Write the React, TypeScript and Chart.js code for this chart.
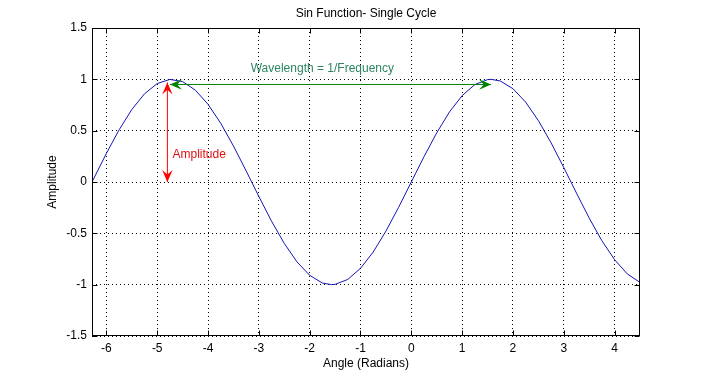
import { useEffect, useRef } from 'react';
import { Chart, registerables } from 'chart.js';

Chart.register(...registerables);

// ---- data ----
const angles = [
  -6.2832, -6.0, -5.75, -5.5, -5.25, -5.0, -4.75, -4.5, -4.25, -4.0, -3.75, -3.5, -3.25,
  -3.0, -2.75, -2.5, -2.25, -2.0, -1.75, -1.57, -1.5, -1.25, -1.0, -0.75, -0.5, -0.25,
  0, 0.25, 0.5, 0.75, 1.0, 1.25, 1.5, 1.57, 1.75, 2.0, 2.25, 2.5, 2.75, 3.0, 3.25,
  3.5, 3.75, 4.0, 4.25, 4.5,
];
const amplitudes = [
  0.0, 0.279, 0.508, 0.706, 0.859, 0.959, 0.999, 0.978, 0.895, 0.757, 0.572, 0.351, 0.108,
  -0.141, -0.382, -0.598, -0.778, -0.909, -0.984, -1.0, -0.997, -0.949, -0.841, -0.682, -0.479, -0.247,
  0.0, 0.247, 0.479, 0.682, 0.841, 0.949, 0.997, 1.0, 0.984, 0.909, 0.778, 0.598, 0.382, 0.141, -0.108,
  -0.351, -0.572, -0.757, -0.895, -0.978,
];
const xTickValues = [-6, -5, -4, -3, -2, -1, 0, 1, 2, 3, 4];
const yTickValues = [-1.5, -1, -0.5, 0, 0.5, 1, 1.5];
const xRange = [-6.2832, 4.5];
const yRange = [-1.5, 1.5];

const titleText = 'Sin Function- Single Cycle';
const xAxisTitle = 'Angle (Radians)';
const yAxisTitle = 'Amplitude';

// annotation anchors (data coordinates)
const amplitudeArrow = [[-4.8, 0], [-4.8, 0.97]];
const wavelengthArrow = [[-4.75, 0.95], [1.57, 0.95]];
const amplitudeLabel = { text: 'Amplitude', x: -4.7, y: 0.27 };
const wavelengthLabel = { text: 'Wavelength = 1/Frequency', x: -3.16, y: 1.107 };

const FONT = 'Liberation Sans, Arial, Helvetica, sans-serif';

function drawHead(ctx: CanvasRenderingContext2D, tx: number, ty: number, dx: number, dy: number) {
  const len = 12;
  const hw = 5.2;
  const px = -dy;
  const py = dx;
  const bx = tx - dx * len;
  const by = ty - dy * len;
  const nx = tx - dx * len * 0.62;
  const ny = ty - dy * len * 0.62;
  ctx.beginPath();
  ctx.moveTo(tx, ty);
  ctx.lineTo(bx + px * hw, by + py * hw);
  ctx.lineTo(nx, ny);
  ctx.lineTo(bx - px * hw, by - py * hw);
  ctx.closePath();
  ctx.fill();
}

function drawDoubleArrow(ctx: CanvasRenderingContext2D, x1: number, y1: number, x2: number, y2: number, color: string) {
  ctx.strokeStyle = color;
  ctx.fillStyle = color;
  ctx.lineWidth = 1;
  ctx.beginPath();
  ctx.moveTo(x1, y1);
  ctx.lineTo(x2, y2);
  ctx.stroke();
  const L = Math.hypot(x2 - x1, y2 - y1) || 1;
  const ux = (x2 - x1) / L;
  const uy = (y2 - y1) / L;
  drawHead(ctx, x2, y2, ux, uy);
  drawHead(ctx, x1, y1, -ux, -uy);
}

const overlayPlugin = {
  id: 'overlay',
  afterDraw(chart: any) {
    const { ctx, chartArea: a } = chart;
    const x = chart.scales.x;
    const y = chart.scales.y;
    ctx.save();
    ctx.setLineDash([]);
    // box
    ctx.strokeStyle = '#000';
    ctx.lineWidth = 1;
    const L = Math.round(a.left) + 0.5;
    const R = Math.round(a.right) - 0.5;
    const T = Math.round(a.top) + 0.5;
    const B = Math.round(a.bottom) - 0.5;
    ctx.strokeRect(L, T, R - L, B - T);
    // inward tick marks
    ctx.beginPath();
    for (const v of xTickValues) {
      const px = Math.round(x.getPixelForValue(v)) + 0.5;
      ctx.moveTo(px, B);
      ctx.lineTo(px, B - 5);
      ctx.moveTo(px, T);
      ctx.lineTo(px, T + 5);
    }
    for (const v of yTickValues) {
      const py = Math.round(y.getPixelForValue(v)) + 0.5;
      ctx.moveTo(L, py);
      ctx.lineTo(L + 5, py);
      ctx.moveTo(R, py);
      ctx.lineTo(R - 5, py);
    }
    ctx.stroke();

    // arrows
    drawDoubleArrow(
      ctx,
      x.getPixelForValue(amplitudeArrow[0][0]), y.getPixelForValue(amplitudeArrow[0][1]),
      x.getPixelForValue(amplitudeArrow[1][0]), y.getPixelForValue(amplitudeArrow[1][1]),
      '#ff0000'
    );
    drawDoubleArrow(
      ctx,
      x.getPixelForValue(wavelengthArrow[0][0]), y.getPixelForValue(wavelengthArrow[0][1]),
      x.getPixelForValue(wavelengthArrow[1][0]), y.getPixelForValue(wavelengthArrow[1][1]),
      '#008000'
    );

    // labels
    ctx.font = `12px ${FONT}`;
    ctx.textBaseline = 'middle';
    ctx.textAlign = 'left';
    ctx.fillStyle = '#e01010';
    ctx.fillText(amplitudeLabel.text, x.getPixelForValue(amplitudeLabel.x), y.getPixelForValue(amplitudeLabel.y));
    ctx.fillStyle = '#2e8560';
    ctx.fillText(wavelengthLabel.text, x.getPixelForValue(wavelengthLabel.x), y.getPixelForValue(wavelengthLabel.y));

    // title
    ctx.fillStyle = '#000';
    ctx.textAlign = 'center';
    ctx.fillText(titleText, (a.left + a.right) / 2, 14);
    ctx.restore();
  },
};

export default function App() {
  const ref = useRef<HTMLCanvasElement | null>(null);

  useEffect(() => {
    document.body.style.margin = '0';
    const canvas = ref.current;
    if (!canvas) return;
    const font = { family: FONT, size: 12 };
    const chart = new Chart(canvas, {
      type: 'line',
      data: {
        datasets: [
          {
            data: angles.map((v, i) => ({ x: v, y: amplitudes[i] })),
            borderColor: '#1414b4',
            borderWidth: 1,
            pointRadius: 0,
            tension: 0,
            fill: false,
          },
        ],
      },
      options: {
        responsive: false,
        animation: false,
        events: [],
        layout: { padding: { left: 0, right: 64, top: 28, bottom: 0 } },
        plugins: {
          legend: { display: false },
          title: { display: false },
          tooltip: { enabled: false },
        },
        scales: {
          x: {
            type: 'linear',
            min: xRange[0],
            max: xRange[1],
            afterBuildTicks: (s: any) => {
              s.ticks = xTickValues.map((value) => ({ value }));
            },
            afterFit: (s: any) => {
              s.height = 42;
            },
            ticks: {
              color: '#000',
              font,
              padding: 5,
              autoSkip: false,
              maxRotation: 0,
              callback: (v: any) => String(v),
            },
            grid: { color: '#000', lineWidth: 1, drawTicks: false },
            border: { display: false, dash: [1, 3] },
            title: {
              display: true,
              text: xAxisTitle,
              color: '#000',
              font,
              padding: { top: 0, bottom: 7 },
            },
          },
          y: {
            type: 'linear',
            min: yRange[0],
            max: yRange[1],
            afterBuildTicks: (s: any) => {
              s.ticks = yTickValues.map((value) => ({ value }));
            },
            afterFit: (s: any) => {
              s.width = 92;
            },
            ticks: {
              color: '#000',
              font,
              padding: 5,
              autoSkip: false,
              callback: (v: any) => String(v),
            },
            grid: { color: '#000', lineWidth: 1, drawTicks: false },
            border: { display: false, dash: [1, 3] },
            title: {
              display: true,
              text: yAxisTitle,
              color: '#000',
              font,
              padding: { top: 45, bottom: 0 },
            },
          },
        },
      },
      plugins: [overlayPlugin],
    });
    return () => chart.destroy();
  }, []);

  return (
    <div style={{ width: 704, height: 378, background: '#fff' }}>
      <canvas ref={ref} width={704} height={378} style={{ display: 'block', width: 704, height: 378 }} />
    </div>
  );
}
